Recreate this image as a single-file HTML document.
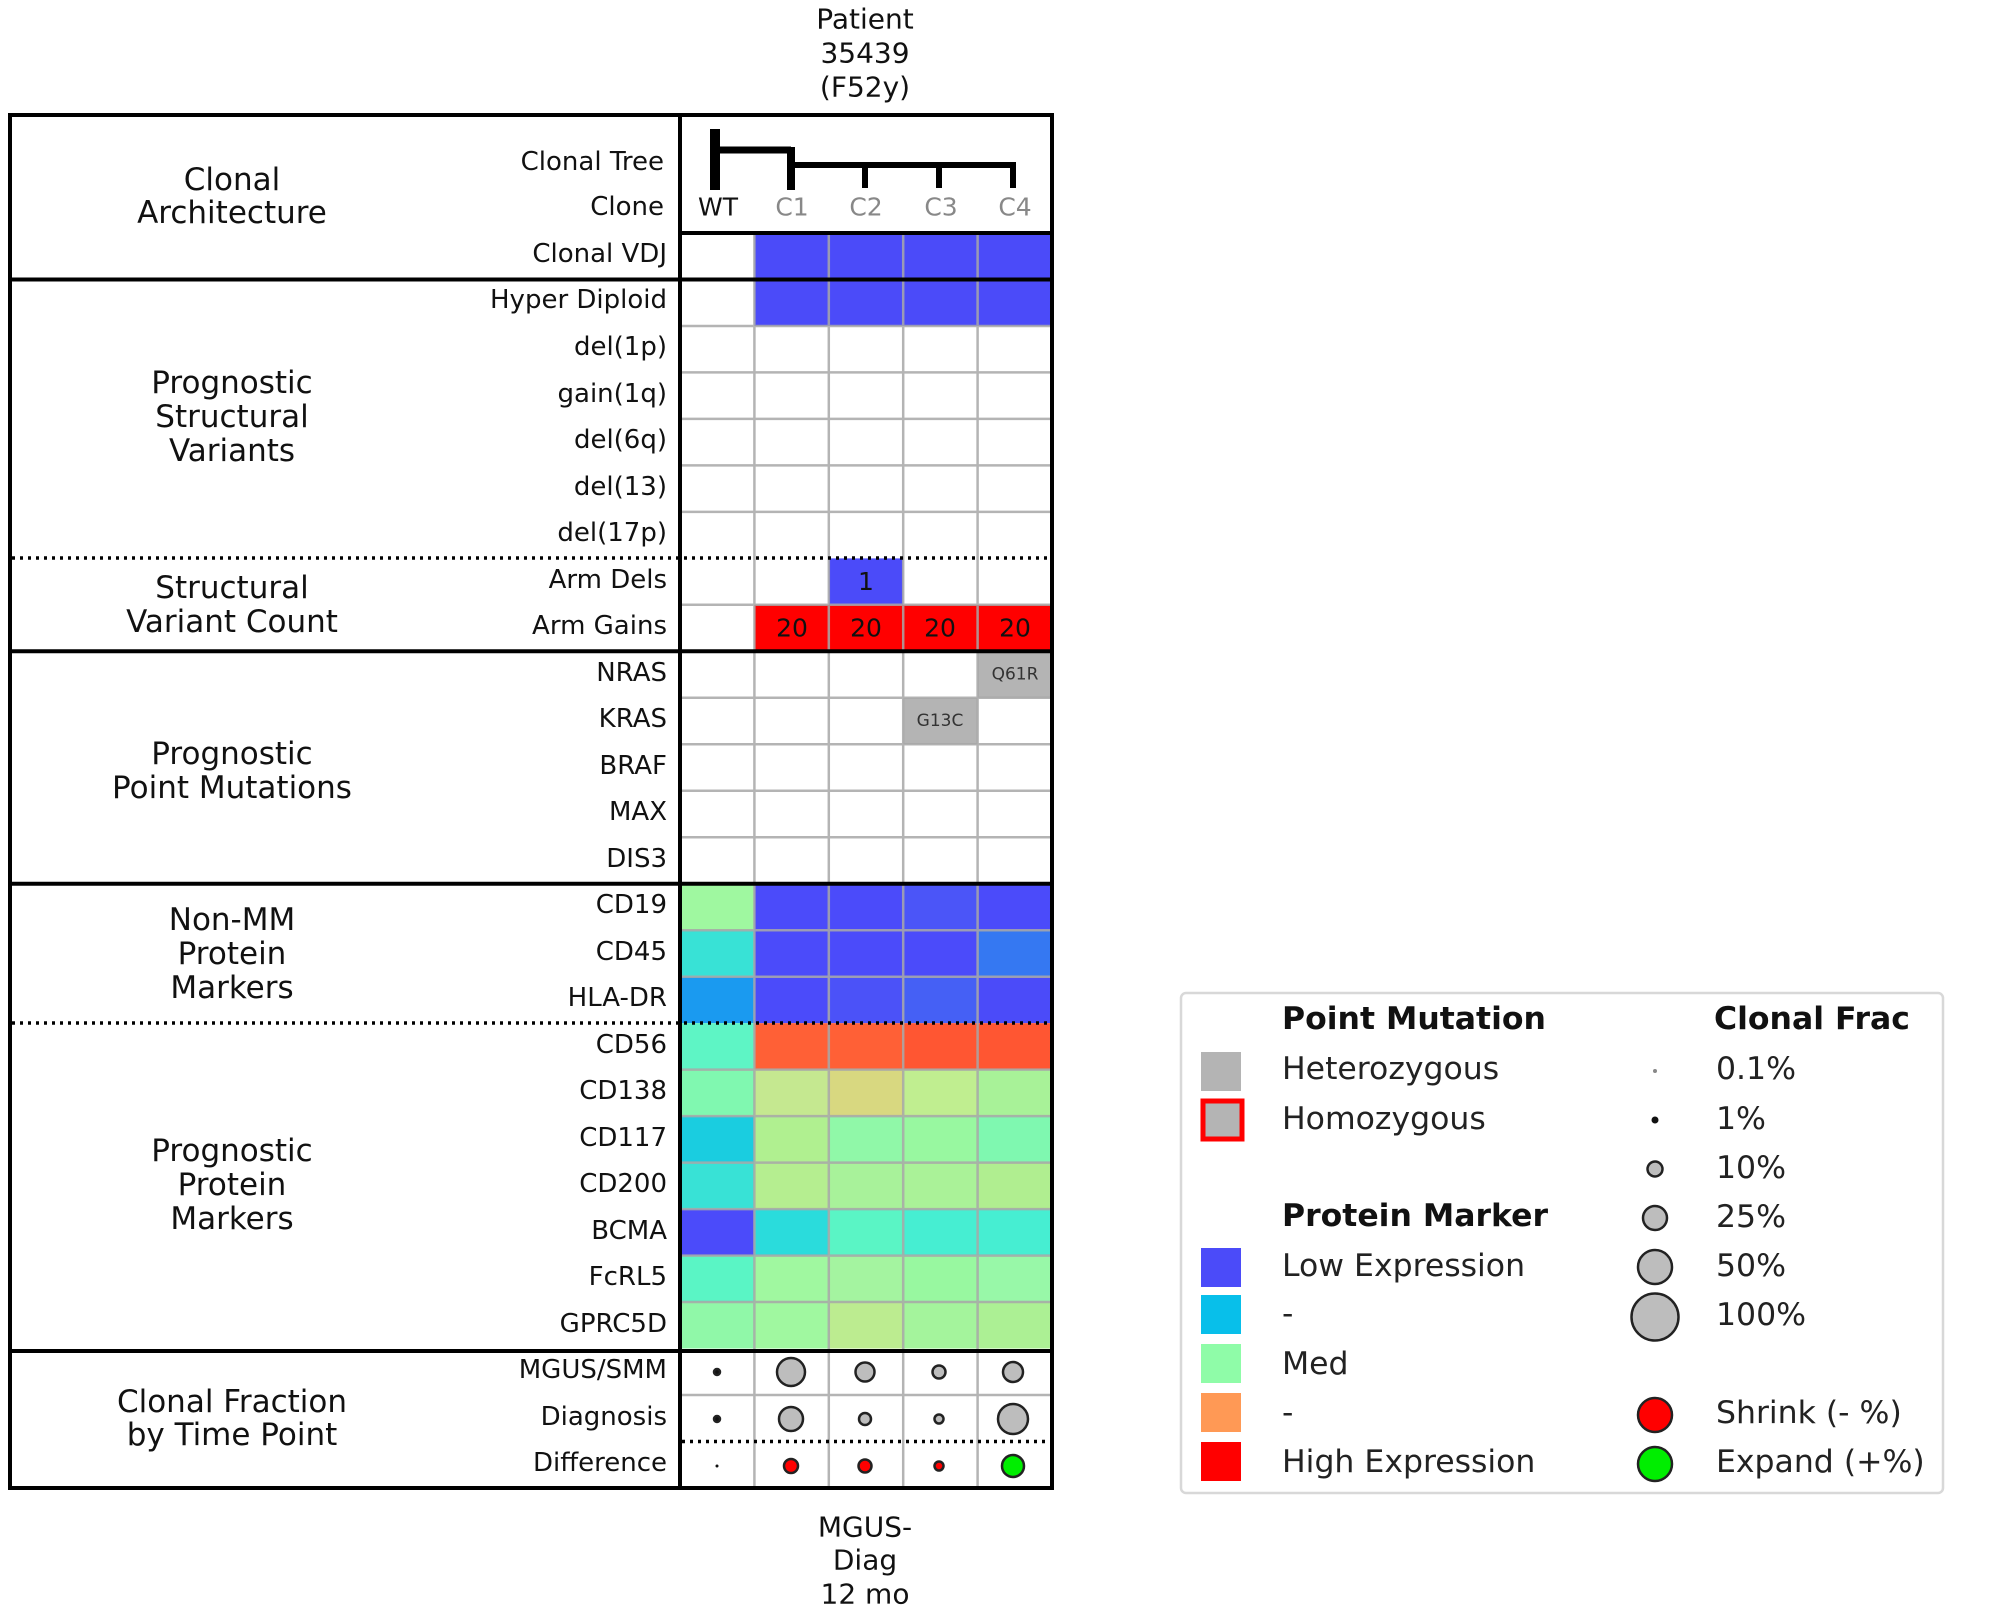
<!DOCTYPE html>
<html><head><meta charset="utf-8"><style>
html,body{margin:0;padding:0;background:#fff;}
svg{display:block;font-family:"DejaVu Sans","Liberation Sans",sans-serif;}
</style></head><body>
<svg width="1989" height="1622" viewBox="0 0 1989 1622" xmlns="http://www.w3.org/2000/svg">
<rect width="1989" height="1622" fill="#fff"/>
<g font-size="28" text-anchor="middle" fill="#111" dominant-baseline="central">
<text x="865" y="19">Patient</text><text x="865" y="53">35439</text><text x="865" y="87">(F52y)</text>
<text x="865" y="1527">MGUS-</text><text x="865" y="1560">Diag</text><text x="865" y="1594">12 mo</text>
</g>
<g>
<rect x="754.4" y="233" width="297.6" height="93" fill="#4b4bf9"/>
<rect x="828.8" y="558.4" width="74.4" height="46.5" fill="#4b4bf9"/>
<rect x="754.4" y="604.8" width="297.6" height="46.5" fill="#ff0000"/>
<rect x="977.6" y="651.3" width="74.4" height="46.5" fill="#b4b4b4"/>
<rect x="903.2" y="697.8" width="74.4" height="46.5" fill="#b4b4b4"/>
<rect x="680" y="883.7" width="74.4" height="46.5" fill="#9ff8a0"/>
<rect x="754.4" y="883.7" width="297.6" height="46.5" fill="#4b4bfa"/>
<rect x="903.2" y="883.7" width="74.4" height="46.5" fill="#4b55f8"/>
<rect x="680" y="930.2" width="74.4" height="46.5" fill="#38e2d6"/>
<rect x="754.4" y="930.2" width="223.2" height="46.5" fill="#4b4bfa"/>
<rect x="977.6" y="930.2" width="74.4" height="46.5" fill="#3578f2"/>
<rect x="680" y="976.7" width="74.4" height="46.5" fill="#1a9af0"/>
<rect x="754.4" y="976.7" width="74.4" height="46.5" fill="#4b4bfa"/>
<rect x="828.8" y="976.7" width="74.4" height="46.5" fill="#4b52f8"/>
<rect x="903.2" y="976.7" width="74.4" height="46.5" fill="#4560f5"/>
<rect x="977.6" y="976.7" width="74.4" height="46.5" fill="#4b4bf9"/>
<rect x="680" y="1023.2" width="74.4" height="46.5" fill="#5ef5c5"/>
<rect x="754.4" y="1023.2" width="148.8" height="46.5" fill="#ff6036"/>
<rect x="903.2" y="1023.2" width="148.8" height="46.5" fill="#ff5632"/>
<rect x="680" y="1069.6" width="74.4" height="46.5" fill="#80f8b0"/>
<rect x="754.4" y="1069.6" width="74.4" height="46.5" fill="#c5e890"/>
<rect x="828.8" y="1069.6" width="74.4" height="46.5" fill="#d8d880"/>
<rect x="903.2" y="1069.6" width="74.4" height="46.5" fill="#c0ee90"/>
<rect x="977.6" y="1069.6" width="74.4" height="46.5" fill="#a8f298"/>
<rect x="680" y="1116.1" width="74.4" height="46.5" fill="#1acde0"/>
<rect x="754.4" y="1116.1" width="74.4" height="46.5" fill="#b0f090"/>
<rect x="828.8" y="1116.1" width="74.4" height="46.5" fill="#90f8a8"/>
<rect x="903.2" y="1116.1" width="74.4" height="46.5" fill="#98f8a0"/>
<rect x="977.6" y="1116.1" width="74.4" height="46.5" fill="#7ff8b0"/>
<rect x="680" y="1162.6" width="74.4" height="46.5" fill="#38e2d6"/>
<rect x="754.4" y="1162.6" width="74.4" height="46.5" fill="#b5ee90"/>
<rect x="828.8" y="1162.6" width="74.4" height="46.5" fill="#a8f29a"/>
<rect x="903.2" y="1162.6" width="74.4" height="46.5" fill="#aaf298"/>
<rect x="977.6" y="1162.6" width="74.4" height="46.5" fill="#b0ee90"/>
<rect x="680" y="1209.1" width="74.4" height="46.5" fill="#4b4bfa"/>
<rect x="754.4" y="1209.1" width="74.4" height="46.5" fill="#2adcdc"/>
<rect x="828.8" y="1209.1" width="74.4" height="46.5" fill="#5af5c5"/>
<rect x="903.2" y="1209.1" width="148.8" height="46.5" fill="#46eed2"/>
<rect x="680" y="1255.6" width="74.4" height="46.5" fill="#5af5c5"/>
<rect x="754.4" y="1255.6" width="74.4" height="46.5" fill="#a0f8a0"/>
<rect x="828.8" y="1255.6" width="74.4" height="46.5" fill="#a4f4a0"/>
<rect x="903.2" y="1255.6" width="74.4" height="46.5" fill="#98f8a0"/>
<rect x="977.6" y="1255.6" width="74.4" height="46.5" fill="#98f8a8"/>
<rect x="680" y="1302" width="74.4" height="46.5" fill="#90f8a8"/>
<rect x="754.4" y="1302" width="74.4" height="46.5" fill="#a0f8a0"/>
<rect x="828.8" y="1302" width="74.4" height="46.5" fill="#bcec90"/>
<rect x="903.2" y="1302" width="74.4" height="46.5" fill="#a4f49c"/>
<rect x="977.6" y="1302" width="74.4" height="46.5" fill="#acf094"/>
</g>
<g stroke="#a8a8a8" stroke-width="2.5" opacity="0.85">
<line x1="754.4" y1="233" x2="754.4" y2="1488"/>
<line x1="828.8" y1="233" x2="828.8" y2="1488"/>
<line x1="903.2" y1="233" x2="903.2" y2="1488"/>
<line x1="977.6" y1="233" x2="977.6" y2="1488"/>
<line x1="680" y1="279.5" x2="1052" y2="279.5"/>
<line x1="680" y1="326" x2="1052" y2="326"/>
<line x1="680" y1="372.4" x2="1052" y2="372.4"/>
<line x1="680" y1="418.9" x2="1052" y2="418.9"/>
<line x1="680" y1="465.4" x2="1052" y2="465.4"/>
<line x1="680" y1="511.9" x2="1052" y2="511.9"/>
<line x1="680" y1="604.8" x2="1052" y2="604.8"/>
<line x1="680" y1="697.8" x2="1052" y2="697.8"/>
<line x1="680" y1="744.3" x2="1052" y2="744.3"/>
<line x1="680" y1="790.8" x2="1052" y2="790.8"/>
<line x1="680" y1="837.2" x2="1052" y2="837.2"/>
<line x1="680" y1="930.2" x2="1052" y2="930.2"/>
<line x1="680" y1="976.7" x2="1052" y2="976.7"/>
<line x1="680" y1="1069.6" x2="1052" y2="1069.6"/>
<line x1="680" y1="1116.1" x2="1052" y2="1116.1"/>
<line x1="680" y1="1162.6" x2="1052" y2="1162.6"/>
<line x1="680" y1="1209.1" x2="1052" y2="1209.1"/>
<line x1="680" y1="1255.6" x2="1052" y2="1255.6"/>
<line x1="680" y1="1302" x2="1052" y2="1302"/>
<line x1="680" y1="1395" x2="1052" y2="1395"/>
</g>
<g stroke="#000" stroke-width="3.5" stroke-dasharray="3 5">
<line x1="12" y1="558" x2="1052" y2="558"/>
<line x1="12" y1="1023" x2="1052" y2="1023"/>
<line x1="682" y1="1441.5" x2="1052" y2="1441.5"/>
</g>
<g stroke="#000" stroke-width="4" fill="none">
<rect x="10" y="115" width="1042" height="1373"/>
<line x1="680" y1="115" x2="680" y2="1488"/>
<line x1="10" y1="279.5" x2="1052" y2="279.5"/>
<line x1="10" y1="651.3" x2="1052" y2="651.3"/>
<line x1="10" y1="883.7" x2="1052" y2="883.7"/>
<line x1="10" y1="1351" x2="1052" y2="1351"/>
<line x1="680" y1="233" x2="1052" y2="233"/>
</g>
<g stroke="#000" fill="none" stroke-linecap="butt">
<line x1="715" y1="129" x2="715" y2="190" stroke-width="10"/>
<line x1="715" y1="150" x2="791" y2="150" stroke-width="7"/>
<line x1="791" y1="147" x2="791" y2="190" stroke-width="8"/>
<line x1="791" y1="165" x2="1015" y2="165" stroke-width="6"/>
<line x1="865" y1="165" x2="865" y2="188" stroke-width="6"/>
<line x1="939" y1="165" x2="939" y2="188" stroke-width="6"/>
<line x1="1013" y1="162" x2="1013" y2="188" stroke-width="6"/>
</g>
<g font-size="25" text-anchor="middle" dominant-baseline="central">
<text x="718" y="207" fill="#111">WT</text>
<text x="792" y="207" fill="#888">C1</text>
<text x="866" y="207" fill="#888">C2</text>
<text x="941" y="207" fill="#888">C3</text>
<text x="1015" y="207" fill="#888">C4</text>
</g>
<g font-size="25" text-anchor="middle" dominant-baseline="central" fill="#111">
<text x="866" y="581.6">1</text>
<text x="792" y="628.1">20</text><text x="866" y="628.1">20</text><text x="940" y="628.1">20</text><text x="1015" y="628.1">20</text>
</g>
<g font-size="17" text-anchor="middle" dominant-baseline="central" fill="#333">
<text x="1015" y="674.6">Q61R</text>
<text x="940" y="721">G13C</text>
</g>
<g font-size="26" text-anchor="end" dominant-baseline="central" fill="#111">
<text x="664" y="162">Clonal Tree</text>
<text x="664" y="207">Clone</text>
<text x="667" y="254">Clonal VDJ</text>
<text x="667" y="300">Hyper Diploid</text>
<text x="667" y="347">del(1p)</text>
<text x="667" y="394">gain(1q)</text>
<text x="667" y="440">del(6q)</text>
<text x="667" y="487">del(13)</text>
<text x="667" y="533">del(17p)</text>
<text x="667" y="580">Arm Dels</text>
<text x="667" y="626">Arm Gains</text>
<text x="667" y="673">NRAS</text>
<text x="667" y="719">KRAS</text>
<text x="667" y="766">BRAF</text>
<text x="667" y="812">MAX</text>
<text x="667" y="859">DIS3</text>
<text x="667" y="905">CD19</text>
<text x="667" y="952">CD45</text>
<text x="667" y="998">HLA-DR</text>
<text x="667" y="1045">CD56</text>
<text x="667" y="1091">CD138</text>
<text x="667" y="1138">CD117</text>
<text x="667" y="1184">CD200</text>
<text x="667" y="1231">BCMA</text>
<text x="667" y="1277">FcRL5</text>
<text x="667" y="1324">GPRC5D</text>
<text x="667" y="1370">MGUS/SMM</text>
<text x="667" y="1417">Diagnosis</text>
<text x="667" y="1463">Difference</text>
</g>
<g font-size="31" text-anchor="middle" dominant-baseline="central" fill="#111">
<text x="232" y="180">Clonal</text><text x="232" y="213">Architecture</text>
<text x="232" y="383">Prognostic</text><text x="232" y="417">Structural</text><text x="232" y="451">Variants</text>
<text x="232" y="588">Structural</text><text x="232" y="622">Variant Count</text>
<text x="232" y="754">Prognostic</text><text x="232" y="788">Point Mutations</text>
<text x="232" y="920">Non-MM</text><text x="232" y="954">Protein</text><text x="232" y="988">Markers</text>
<text x="232" y="1151">Prognostic</text><text x="232" y="1185">Protein</text><text x="232" y="1219">Markers</text>
<text x="232" y="1402">Clonal Fraction</text><text x="232" y="1435">by Time Point</text>
</g>
<g stroke="#222" stroke-width="2.5" fill="#bdbdbd">
<circle cx="717" cy="1372" r="3" fill="#111"/>
<circle cx="791" cy="1372" r="14"/>
<circle cx="865" cy="1372" r="9.5"/>
<circle cx="939" cy="1372" r="6.5"/>
<circle cx="1013" cy="1372" r="10"/>
<circle cx="717" cy="1419" r="3" fill="#111"/>
<circle cx="791" cy="1419" r="12"/>
<circle cx="865" cy="1419" r="6"/>
<circle cx="939" cy="1419" r="4.5"/>
<circle cx="1013" cy="1419" r="15"/>
<circle cx="717" cy="1466" r="1.5" fill="#111" stroke="none"/>
<circle cx="791" cy="1466" r="7" fill="#ff0000"/>
<circle cx="865" cy="1466" r="6.5" fill="#ff0000"/>
<circle cx="939" cy="1466" r="4.5" fill="#ff0000"/>
<circle cx="1013" cy="1466" r="11" fill="#00ee00"/>
</g>
<rect x="1181" y="993" width="762" height="500" rx="5" fill="#fff" stroke="#d8d8d8" stroke-width="2.5"/>
<rect x="1201" y="1052" width="40" height="39" fill="#b4b4b4"/>
<rect x="1203" y="1101" width="39" height="38" fill="#b4b4b4" stroke="#ff0000" stroke-width="5"/>
<rect x="1201" y="1248" width="40" height="39" fill="#4b4bf9"/>
<rect x="1201" y="1295" width="40" height="39" fill="#08bfea"/>
<rect x="1201" y="1344" width="40" height="39" fill="#8ffca8"/>
<rect x="1201" y="1393" width="40" height="39" fill="#ff9955"/>
<rect x="1201" y="1442" width="40" height="39" fill="#ff0000"/>
<g font-size="31.5" dominant-baseline="central" fill="#222">
<text x="1282" y="1019" font-weight="bold" fill="#111">Point Mutation</text>
<text x="1282" y="1069">Heterozygous</text>
<text x="1282" y="1119">Homozygous</text>
<text x="1282" y="1216" font-weight="bold" fill="#111">Protein Marker</text>
<text x="1282" y="1266">Low Expression</text>
<text x="1282" y="1314">-</text>
<text x="1282" y="1364">Med</text>
<text x="1282" y="1413">-</text>
<text x="1282" y="1462">High Expression</text>
<text x="1714" y="1019" font-weight="bold" fill="#111">Clonal Frac</text>
<text x="1716" y="1069">0.1%</text>
<text x="1716" y="1119">1%</text>
<text x="1716" y="1168">10%</text>
<text x="1716" y="1217">25%</text>
<text x="1716" y="1266">50%</text>
<text x="1716" y="1315">100%</text>
<text x="1716" y="1413">Shrink (- %)</text>
<text x="1716" y="1462">Expand (+%)</text>
</g>
<g stroke="#222" stroke-width="2.5" fill="#bdbdbd">
<circle cx="1655" cy="1071" r="2" fill="#888" stroke="none"/>
<circle cx="1655" cy="1120" r="3.5" fill="#111" stroke="none"/>
<circle cx="1655" cy="1169" r="7.5"/>
<circle cx="1655" cy="1218" r="12"/>
<circle cx="1655" cy="1267" r="17"/>
<circle cx="1655" cy="1317" r="23.5"/>
<circle cx="1655" cy="1415" r="17" fill="#ff0000"/>
<circle cx="1655" cy="1464" r="17" fill="#00ee00"/>
</g>
</svg>
</body></html>
